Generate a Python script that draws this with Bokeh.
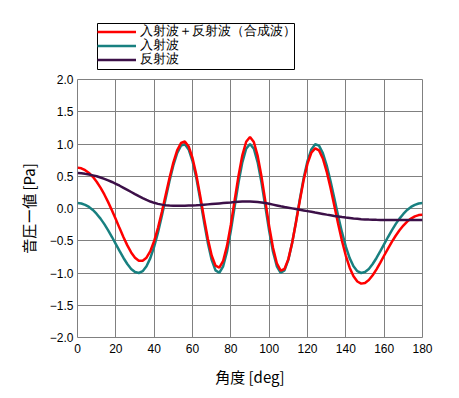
from bokeh.plotting import figure
from bokeh.models import Legend, LegendItem, FixedTicker, Range1d, BoxAnnotation
from bokeh.layouts import column
from bokeh.embed import file_html
from bokeh.resources import INLINE

# ---- data ----
angle_deg = [0, 2, 4, 6, 8, 10, 12, 14, 16, 18, 20, 22, 24, 26, 28, 30, 32, 34, 36, 38,
             40, 42, 44, 46, 48, 50, 52, 54, 56, 58, 60, 62, 64, 66, 68, 70, 72, 74, 76, 78,
             80, 82, 84, 86, 88, 90, 92, 94, 96, 98, 100, 102, 104, 106, 108, 110, 112, 114,
             116, 118, 120, 122, 124, 126, 128, 130, 132, 134, 136, 138, 140, 142, 144, 146,
             148, 150, 152, 154, 156, 158, 160, 162, 164, 166, 168, 170, 172, 174, 176, 178, 180]

incident = [0.084, 0.078, 0.057, 0.024, -0.023, -0.084, -0.157, -0.242, -0.338, -0.442,
            -0.551, -0.661, -0.767, -0.861, -0.937, -0.985, -1.000, -0.972, -0.896, -0.769,
            -0.592, -0.371, -0.116, 0.157, 0.426, 0.668, 0.859, 0.974, 0.996, 0.916,
            0.736, 0.471, 0.144, -0.204, -0.533, -0.797, -0.960, -0.996, -0.896, -0.669,
            -0.346, 0.029, 0.401, 0.716, 0.926, 1.000,
            0.926, 0.716, 0.401, 0.029, -0.346, -0.669, -0.896, -0.996, -0.960, -0.797,
            -0.533, -0.204, 0.144, 0.471, 0.736, 0.916, 0.996, 0.974, 0.859, 0.668,
            0.426, 0.157, -0.116, -0.371, -0.592, -0.769, -0.896, -0.972, -1.000, -0.985,
            -0.937, -0.861, -0.767, -0.661, -0.551, -0.442, -0.338, -0.242, -0.157, -0.084,
            -0.023, 0.024, 0.057, 0.078, 0.084]

reflected = [0.550, 0.545, 0.537, 0.527, 0.514, 0.499, 0.481, 0.460, 0.437, 0.411,
             0.383, 0.353, 0.321, 0.289, 0.256, 0.223, 0.191, 0.161, 0.133, 0.108,
             0.088, 0.072, 0.060, 0.052, 0.047, 0.044, 0.042, 0.042, 0.043, 0.045,
             0.047, 0.050, 0.054, 0.059, 0.064, 0.069, 0.074, 0.079, 0.084, 0.089,
             0.094, 0.100, 0.105, 0.108, 0.109, 0.108, 0.105, 0.100, 0.094, 0.085,
             0.073, 0.060, 0.047, 0.034, 0.022, 0.012, 0.002, -0.008, -0.019, -0.030,
             -0.041, -0.052, -0.063, -0.073, -0.084, -0.095, -0.105, -0.115, -0.124, -0.133,
             -0.141, -0.148, -0.155, -0.160, -0.165, -0.169, -0.172, -0.174, -0.176, -0.177,
             -0.178, -0.179, -0.179, -0.180, -0.180, -0.180, -0.180, -0.180, -0.180, -0.180,
             -0.180]

combined = [0.634, 0.623, 0.594, 0.551, 0.491, 0.415, 0.324, 0.218, 0.099, -0.031,
            -0.168, -0.308, -0.446, -0.572, -0.681, -0.762, -0.809, -0.811, -0.763, -0.661,
            -0.504, -0.299, -0.056, 0.209, 0.473, 0.712, 0.901, 1.016, 1.039, 0.961,
            0.783, 0.521, 0.198, -0.145, -0.469, -0.728, -0.886, -0.917, -0.812, -0.580,
            -0.252, 0.129, 0.506, 0.824, 1.035, 1.108, 1.031, 0.816, 0.495, 0.114,
            -0.273, -0.609, -0.849, -0.962, -0.938, -0.785, -0.531, -0.212, 0.125, 0.441,
            0.695, 0.864, 0.933, 0.901, 0.775, 0.573, 0.321, 0.042, -0.240, -0.504,
            -0.733, -0.917, -1.051, -1.132, -1.165, -1.154, -1.109, -1.035, -0.943, -0.838,
            -0.729, -0.621, -0.517, -0.422, -0.337, -0.264, -0.203, -0.156, -0.123, -0.102,
            -0.096]

series_names = ["入射波＋反射波（合成波）", "入射波", "反射波"]
series_colors = ["#ff0000", "#188080", "#3c1048"]
series_values = [combined, incident, reflected]

x_ticks = [0, 20, 40, 60, 80, 100, 120, 140, 160, 180]
y_ticks = [-2.0, -1.5, -1.0, -0.5, 0.0, 0.5, 1.0, 1.5, 2.0]
y_tick_labels = ["−2.0", "−1.5", "−1.0", "−0.5", "0.0", "0.5", "1.0", "1.5", "2.0"]

x_title = "角度 [deg]"
y_title = "音圧ー値 [Pa]"

JP = "Noto Sans CJK JP"
NUM = "Liberation Sans"

W = 450
BL, BR = 77, 28          # left / right borders shared by both stacked figures
STRIP_H = 71             # height of the legend strip above the plot

# ---- legend strip (above the plot, outside its frame) ----
# Its ranges are chosen so that one unit = one pixel (offset by 1000), which keeps
# the legend-only copies of the series out of view.
pl = figure(width=W, height=STRIP_H, output_backend="svg", toolbar_location=None,
            x_axis_location=None, y_axis_location=None,
            x_range=Range1d(1000 + BL, 1000 + W - BR),
            y_range=Range1d(1000 + STRIP_H, 1000),
            min_border_left=BL, min_border_right=BR, min_border_top=0, min_border_bottom=0)
pl.grid.visible = False
pl.outline_line_color = None
pl.background_fill_color = "white"
pl.border_fill_color = "white"

legend_box = BoxAnnotation(left=1097, right=1294, top=1023, bottom=1069,
                           fill_color="white", fill_alpha=1.0,
                           line_color="black", line_alpha=1.0, line_width=1)
pl.add_layout(legend_box)

lr = [pl.line(angle_deg, v, line_color=c, line_width=2.5)
      for v, c in zip(series_values, series_colors)]
row_offsets = [31, 17, 3]
for name, rend, vy in zip(series_names, lr, row_offsets):
    lg = Legend(items=[LegendItem(label=name, renderers=[rend])],
                location=(20, vy), orientation="vertical",
                border_line_color=None, background_fill_alpha=0.0,
                label_text_font=NUM, label_text_font_size="13px", label_text_color="black",
                glyph_width=39, glyph_height=13, label_height=13, label_standoff=4,
                spacing=0, padding=2, margin=0)
    pl.add_layout(lg, "center")

# ---- main plot ----
p = figure(width=W, height=325, output_backend="svg", toolbar_location=None,
           x_range=Range1d(0, 180), y_range=Range1d(-2, 2),
           min_border_left=BL, min_border_right=BR, min_border_top=8, min_border_bottom=59)

p.background_fill_color = "white"
p.border_fill_color = "white"
p.outline_line_color = "#808080"
p.outline_line_width = 1

p.xgrid.ticker = FixedTicker(ticks=x_ticks)
p.ygrid.ticker = FixedTicker(ticks=y_ticks)
p.grid.grid_line_color = "#808080"
p.grid.grid_line_alpha = 1.0
p.grid.grid_line_width = 1

p.xaxis.ticker = FixedTicker(ticks=x_ticks)
p.yaxis.ticker = FixedTicker(ticks=y_ticks)
p.yaxis.major_label_overrides = {t: s for t, s in zip(y_ticks, y_tick_labels)}

p.axis.axis_line_color = None
p.axis.major_tick_line_color = None
p.axis.minor_tick_line_color = None
p.axis.major_tick_out = 0
p.axis.major_tick_in = 0
p.axis.minor_tick_out = 0
p.axis.minor_tick_in = 0
p.axis.major_label_text_font = NUM
p.axis.major_label_text_font_size = "12px"
p.axis.major_label_text_color = "black"
p.axis.axis_label_text_font = JP
p.axis.axis_label_text_font_size = "15px"
p.axis.axis_label_text_font_style = "normal"
p.axis.axis_label_text_color = "black"

p.xaxis.axis_label = x_title
p.yaxis.axis_label = y_title
p.xaxis.major_label_standoff = 6
p.xaxis.axis_label_standoff = 10
p.yaxis.major_label_standoff = 4
p.yaxis.axis_label_standoff = 8

r_inc = p.line(angle_deg, incident, line_color=series_colors[1], line_width=2.5)
r_comb = p.line(angle_deg, combined, line_color=series_colors[0], line_width=2.5)
r_ref = p.line(angle_deg, reflected, line_color=series_colors[2], line_width=2.5)

layout = column(pl, p, spacing=0)
open("out.html", "w").write(file_html(layout, INLINE))
